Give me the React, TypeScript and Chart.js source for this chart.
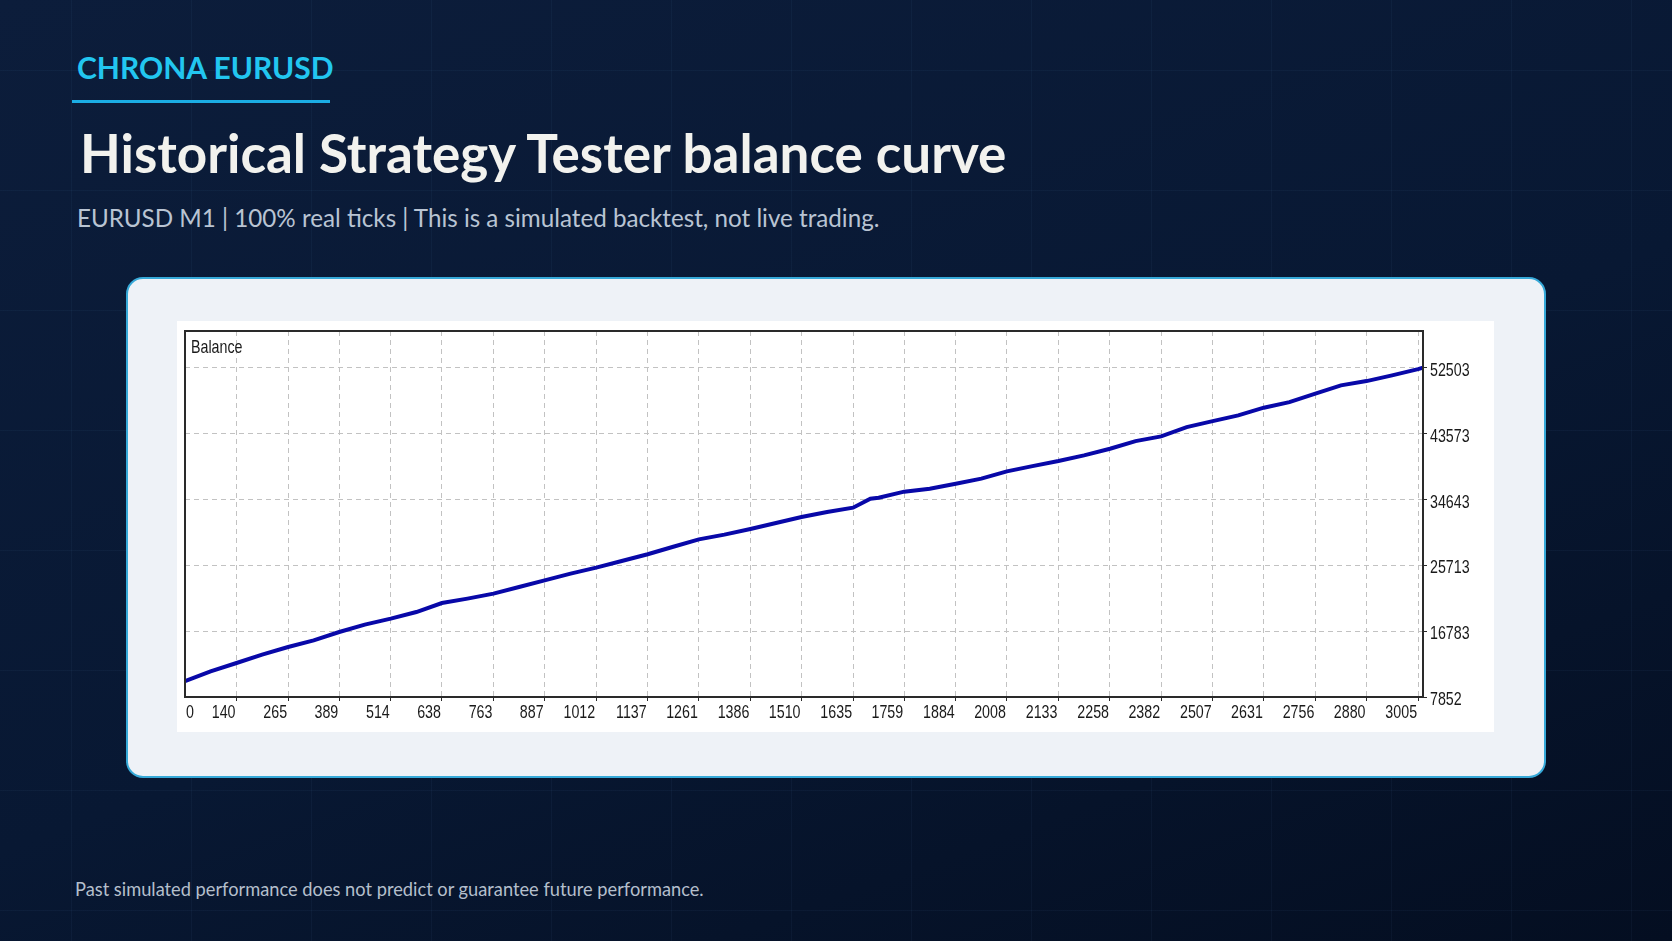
import React, { useEffect, useRef } from "react";
import { Chart, registerables } from "chart.js";

Chart.register(...registerables);

// deal axis (MT5 tester style: "0" sits at the left edge, grid every ~125 deals)
const X_MIN = 15;
const X_MAX = 3017;
const X_TICKS = [
  X_MIN, 140, 265, 389, 514, 638, 763, 887, 1012, 1137, 1261, 1386, 1510,
  1635, 1759, 1884, 2008, 2133, 2258, 2382, 2507, 2631, 2756, 2880, 3005,
];
const X_TICK_LABELS = [
  "0", "140", "265", "389", "514", "638", "763", "887", "1012", "1137", "1261",
  "1386", "1510", "1635", "1759", "1884", "2008", "2133", "2258", "2382",
  "2507", "2631", "2756", "2880", "3005",
];

const Y_MIN = 7852;
const Y_MAX = 57460;
const Y_TICKS = [7852, 16783, 25713, 34643, 43573, 52503];

// balance curve
const DEALS = [
  15, 77, 140, 202, 265, 327, 389, 451, 514, 576, 638, 700, 763, 825, 887, 950,
  1012, 1074, 1137, 1199, 1261, 1323, 1386, 1448, 1510, 1572, 1635, 1677, 1697,
  1759, 1821, 1884, 1946, 2008, 2070, 2133, 2195, 2258, 2320, 2382, 2444, 2507,
  2569, 2631, 2693, 2756, 2818, 2880, 2942, 3005, 3017,
];
const BALANCE = [
  10000, 11335, 12459, 13597, 14627, 15535, 16660, 17663, 18475, 19370, 20590,
  21185, 21860, 22757, 23665, 24573, 25385, 26280, 27200, 28213, 29220, 29860,
  30616, 31430, 32242, 32920, 33515, 34735, 34870, 35683, 36090, 36767, 37445,
  38434, 39150, 39830, 40600, 41500, 42540, 43177, 44437, 45250, 46022, 47067,
  47825, 48963, 50090, 50670, 51440, 52296, 52503,
];

const UI_FONT = 'Lato, "Open Sans", sans-serif';
// MT5 labels use a narrow font; squeeze Liberation Sans to match
const LABEL_FONT = '19px "Liberation Sans", Arial, sans-serif';
const SQUEEZE = 0.75;

function squeezedText(ctx: CanvasRenderingContext2D, text: string, x: number, y: number, align: CanvasTextAlign) {
  ctx.save();
  ctx.translate(x, y);
  ctx.scale(SQUEEZE, 1);
  ctx.textAlign = align;
  ctx.fillText(text, 0, 0);
  ctx.restore();
}

const mtPlugin = {
  id: "mtFrame",
  afterDraw(chart: any) {
    const { ctx, chartArea: a } = chart;
    ctx.save();
    ctx.strokeStyle = "#2a2a2a";
    ctx.lineWidth = 2;
    ctx.strokeRect(a.left, a.top, a.right - a.left, a.bottom - a.top);

    ctx.fillStyle = "#1a1a1a";
    ctx.font = LABEL_FONT;
    ctx.textBaseline = "middle";

    const xs = chart.scales.x;
    xs.ticks.forEach((t: any, i: number) => {
      const px = xs.getPixelForValue(t.value);
      if (i === 0) squeezedText(ctx, X_TICK_LABELS[i], a.left + 1, a.bottom + 16, "left");
      else squeezedText(ctx, X_TICK_LABELS[i], px - 1, a.bottom + 16, "right");
    });

    const ys = chart.scales.y;
    ys.ticks.forEach((t: any) => {
      squeezedText(ctx, String(t.value), a.right + 7, ys.getPixelForValue(t.value) + 3, "left");
    });

    squeezedText(ctx, chart.data.datasets[0].label, a.left + 6, a.top + 17, "left");
    ctx.restore();
  },
};

const BalanceChart: React.FC = () => {
  const canvasRef = useRef<HTMLCanvasElement>(null);

  useEffect(() => {
    const ctx = canvasRef.current?.getContext("2d");
    if (!ctx) return;

    const chart = new Chart(ctx, {
      type: "line",
      data: {
        datasets: [
          {
            label: "Balance",
            data: DEALS.map((d, i) => ({ x: d, y: BALANCE[i] })),
            borderColor: "#0808a8",
            borderWidth: 4,
            pointRadius: 0,
            tension: 0,
          },
        ],
      },
      options: {
        animation: false,
        responsive: true,
        maintainAspectRatio: false,
        layout: { padding: { left: 8, top: 10, right: 0, bottom: 0 } },
        plugins: { legend: { display: false }, tooltip: { enabled: false } },
        scales: {
          x: {
            type: "linear",
            min: X_MIN,
            max: X_MAX,
            afterBuildTicks: (scale: any) => {
              scale.ticks = X_TICKS.map((v) => ({ value: v }));
            },
            afterFit: (scale: any) => {
              scale.height = 35;
            },
            border: { display: false, dash: [5, 4] },
            grid: {
              color: (c: any) => (c.index === 0 ? "rgba(0,0,0,0)" : "#c2c2c2"),
              tickColor: (c: any) => (c.index === 0 ? "rgba(0,0,0,0)" : "#2a2a2a"),
              tickLength: 4,
              tickBorderDash: [],
            },
            ticks: { display: false },
          },
          y: {
            type: "linear",
            position: "right",
            min: Y_MIN,
            max: Y_MAX,
            afterBuildTicks: (scale: any) => {
              scale.ticks = Y_TICKS.map((v) => ({ value: v }));
            },
            afterFit: (scale: any) => {
              scale.width = 71;
            },
            border: { display: false, dash: [5, 4] },
            grid: {
              color: "#c2c2c2",
              tickColor: "#2a2a2a",
              tickLength: 4,
              tickBorderDash: [],
            },
            ticks: { display: false },
          },
        },
      },
      plugins: [mtPlugin],
    });

    return () => chart.destroy();
  }, []);

  return <canvas ref={canvasRef} />;
};

const abs = (s: React.CSSProperties): React.CSSProperties => ({
  position: "absolute",
  margin: 0,
  whiteSpace: "nowrap",
  lineHeight: 1.2,
  fontFamily: UI_FONT,
  ...s,
});

export default function App() {
  return (
    <div
      style={{
        position: "fixed",
        inset: 0,
        overflow: "hidden",
        backgroundColor: "#081834",
        backgroundImage:
          "linear-gradient(rgba(110,160,220,0.05) 1px, transparent 1px)," +
          "linear-gradient(90deg, rgba(110,160,220,0.05) 1px, transparent 1px)," +
          "linear-gradient(160deg, #0c1d3b 0%, #081833 55%, #040e21 100%)",
        backgroundSize: "120px 120px, 120px 120px, 100% 100%",
        backgroundPosition: "0 70px, 71px 0, 0 0",
      }}
    >
      <div style={abs({ left: 77, top: 49, fontSize: 30, fontWeight: 700, color: "#22c6f0" })}>
        CHRONA EURUSD
      </div>
      <div style={{ position: "absolute", left: 72, top: 100, width: 258, height: 3, background: "#1badE4" }} />
      <div style={abs({ left: 80, top: 121, fontSize: 53, fontWeight: 700, color: "#f2f2ee" })}>
        Historical Strategy Tester balance curve
      </div>
      <div style={abs({ left: 77, top: 203, fontSize: 24.2, color: "#b9c4d3" })}>
        EURUSD M1 | 100% real ticks | This is a simulated backtest, not live trading.
      </div>

      <div
        style={{
          position: "absolute",
          left: 126,
          top: 277,
          width: 1420,
          height: 501,
          boxSizing: "border-box",
          borderRadius: 17,
          background: "#eef2f7",
          border: "2px solid #36a9d8",
        }}
      />
      <div
        style={{
          position: "absolute",
          left: 177,
          top: 321,
          width: 1317,
          height: 411,
          background: "#ffffff",
        }}
      >
        <BalanceChart />
      </div>

      <div style={abs({ left: 75, top: 879, fontSize: 18.25, color: "#b4bfcc" })}>
        Past simulated performance does not predict or guarantee future performance.
      </div>
    </div>
  );
}
